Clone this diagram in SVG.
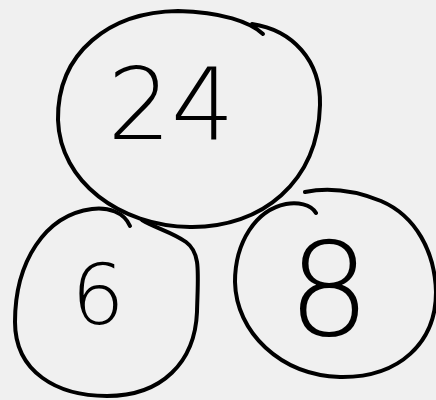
<svg xmlns="http://www.w3.org/2000/svg" width="436" height="400" viewBox="0 0 436 400">
<style>
.ring{fill:none;stroke:#000;stroke-width:4;stroke-linecap:round;stroke-linejoin:round}
.num{font-family:"DejaVu Sans","Liberation Sans",sans-serif;font-weight:200;fill:#000;text-anchor:middle}
</style>
<rect width="436" height="400" fill="#f0f0f0"/>
<g id="node-24">
<path class="ring" d="M263,34 C250,22 222,12 178,11 C110,12 57,52 58,120 C60,182 120,226 190,227 C262,228 318,182 320,105 C321,60 292,30 252,24"/>
<text class="num" x="171" y="139" font-size="100">24</text>
</g>
<g id="node-6">
<path class="ring" d="M130,226 C124,212 108,207 92,209 C45,215 15,262 15,322 C15,372 57,396 107,396 C162,396 195,362 197,312 C198,272 201,253 186,242 C172,232 155,228 142,220"/>
<text class="num" x="98" y="324" font-size="84">6</text>
</g>
<g id="node-8">
<path class="ring" d="M316,213 C311,204 297,202 286,204 C256,210 235,242 235,282 C236,332 280,375 340,377 C400,378 436,342 436,292 C435,252 416,216 381,201 C356,191 330,187 305,192"/>
<text class="num" x="329" y="335" font-size="130">8</text>
</g>
<g id="connectors"/>
</svg>
